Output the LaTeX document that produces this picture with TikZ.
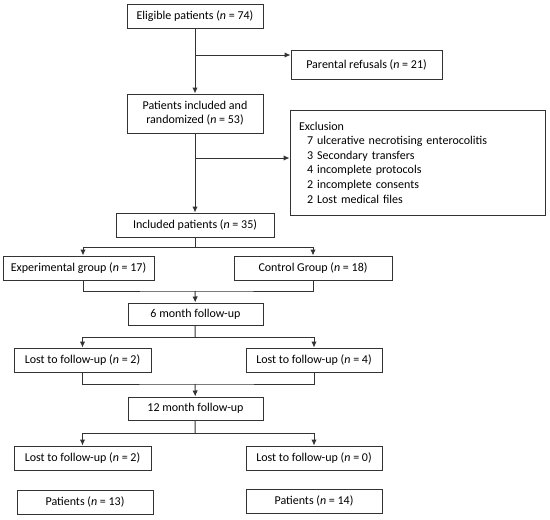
\documentclass[tikz,border=0pt]{standalone}
\usepackage{fontspec}
\setmainfont{Carlito}
\usetikzlibrary{arrows.meta}

\tikzset{
	box/.style={draw=black!80, line width=1pt, rectangle, minimum height=24pt, inner sep=2pt, font=\fontsize{12}{14}\selectfont},
	link/.style={draw=black!80, line width=1pt},
}

\begin{document}
\begin{tikzpicture}[>={Latex[length=6pt, width=5.5pt]}, x=1pt, y=-1pt]
	% Khung ảnh giữ đúng tỉ lệ
	\useasboundingbox (0,0) rectangle (550,520);
	
	% 1. Các hộp phần trên
	\node[box, minimum width=136pt] (elig) at (195,16) {Eligible patients (\textit{n} = 74)};
	\node[box, minimum width=151pt, minimum height=29pt] (refus) at (366.5,64.5) {Parental refusals (\textit{n} = 21)};
	\node[box, minimum width=136pt, minimum height=39pt, align=center] (rand) at (195,113.5) {Patients included and\\randomized (\textit{n} = 53)};
	\node[box, minimum width=255pt, minimum height=105pt, text width=237pt, inner xsep=9pt, align=left, font=\fontsize{12}{14.6}\selectfont] (excl) at (417.5,162.5)
		{Exclusion\\
		\hspace*{8pt}7 ulcerative necrotising enterocolitis\\
		\hspace*{8pt}3 Secondary transfers\\
		\hspace*{8pt}4 incomplete protocols\\
		\hspace*{8pt}2 incomplete consents\\
		\hspace*{8pt}2 Lost medical files};
	\node[box, minimum width=158pt] (incl) at (195,225) {Included patients (\textit{n} = 35)};
	
	% 2. Hai nhóm và các lần theo dõi
	\node[box, minimum width=151pt] (expg) at (78.5,268) {Experimental group (\textit{n} = 17)};
	\node[box, minimum width=158pt] (ctrl) at (313,268) {Control Group (\textit{n} = 18)};
	\node[box, minimum width=135pt, minimum height=22pt] (six) at (195.5,314) {6 month follow-up};
	\node[box, minimum width=137pt] (lostA) at (82.5,360) {Lost to follow-up (\textit{n} = 2)};
	\node[box, minimum width=136pt] (lostB) at (314,360) {Lost to follow-up (\textit{n} = 4)};
	\node[box, minimum width=135pt, minimum height=23pt] (twelve) at (195.5,408.5) {12 month follow-up};
	\node[box, minimum width=137pt] (lostC) at (82.5,458) {Lost to follow-up (\textit{n} = 2)};
	\node[box, minimum width=136pt] (lostD) at (314,458) {Lost to follow-up (\textit{n} = 0)};
	\node[box, minimum width=136pt] (patA) at (85,502) {Patients (\textit{n} = 13)};
	\node[box, minimum width=136pt] (patB) at (314,501) {Patients (\textit{n} = 14)};
	
	% 3. Các điểm rẽ nhánh
	\coordinate (j1) at (195,55);
	\coordinate (j2) at (195,158);
	\coordinate (s1) at (195,247);
	\coordinate (m1) at (195,291);
	\coordinate (s2) at (195,337);
	\coordinate (m2) at (195,384);
	\coordinate (s3) at (195,433);
	
	% 4. Đường nối phần trên
	\draw[link, ->] (elig) -- (rand);
	\draw[link, ->] (j1) -- (j1 -| refus.west);
	\draw[link, ->] (rand) -- (incl);
	\draw[link, ->] (j2) -- (j2 -| excl.west);
	
	% 5. Tách và gộp nhánh
	\draw[link] (incl) -- (s1);
	\draw[link, ->] (s1) -| ([xshift=4.5pt]expg.north);
	\draw[link, ->] (s1) -| (ctrl.north);
	\draw[link] ([xshift=4.5pt]expg.south) |- (m1) -| (ctrl.south);
	\draw[link, ->] (m1) -- (six);
	\draw[link] (six) -- (s2);
	\draw[link, ->] (s2) -| (lostA.north);
	\draw[link, ->] (s2) -| (lostB.north);
	\draw[link] (lostA.south) |- (m2) -| (lostB.south);
	\draw[link, ->] (m2) -- (twelve);
	\draw[link] (twelve) -- (s3);
	\draw[link, ->] (s3) -| (lostC.north);
	\draw[link, ->] (s3) -| (lostD.north);
	
\end{tikzpicture}
\end{document}
